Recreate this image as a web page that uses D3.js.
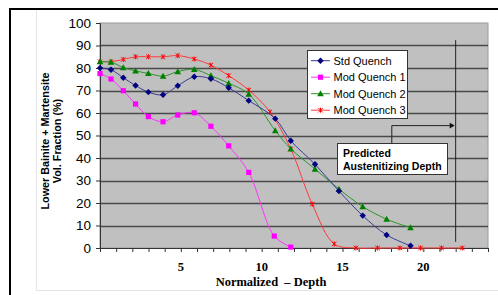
<!DOCTYPE html>
<html><head><meta charset="utf-8">
<script src="https://cdn.jsdelivr.net/npm/d3@7"></script>
<style>body{margin:0;background:#fff;} svg{display:block;}</style>
</head><body>
<script>
// ---- data ----
const xMain = [0, 0.68, 1.44, 2.2, 2.99, 3.9, 4.81, 5.83, 6.86, 7.96, 9.2, 10.84, 11.8, 13.3, 14.78, 16.25, 17.73, 19.21];
const stdQuench = [80, 79.2, 75.7, 72.2, 69.3, 68.1, 72.1, 76.1, 75.2, 71.2, 65.5, 57.5, 47.7, 37.2, 25.3, 14.4, 5.8, 1.0];
const modQuench2 = [82.8, 82.6, 80.2, 78.7, 77.6, 76.4, 78.4, 79.4, 76.6, 73.2, 68.4, 52.2, 44.1, 35.1, 26.2, 18.4, 12.8, 9.0];
const xMod1 = [0, 0.68, 1.44, 2.2, 2.99, 3.9, 4.81, 5.83, 6.86, 7.96, 9.2, 10.78, 11.8];
const modQuench1 = [77.5, 75.1, 69.9, 64, 58.4, 56.1, 59.1, 60.1, 54.1, 45.4, 33.6, 5.3, 0.4];
const xMod3 = [0, 0.68, 1.44, 2.2, 2.99, 3.9, 4.81, 5.83, 6.86, 7.96, 9.2, 10.51, 11.8, 13.13, 14.49, 15.83, 17.17, 18.55, 19.83, 21.13, 22.41];
const modQuench3 = [82.8, 82.8, 83.8, 85, 85, 85, 85.5, 84, 81.3, 76.6, 70.2, 60.5, 44, 19.5, 1.8, 0, 0, 0, 0, 0, 0];
const seriesNames = ["Std Quench", "Mod Quench 1", "Mod Quench 2", "Mod Quench 3"];
const yTicks = [0, 10, 20, 30, 40, 50, 60, 70, 80, 90, 100];
const xTickLabels = [5, 10, 15, 20];
const predictedDepth = 22;
const annotationLines = ["Predicted", "Austenitizing Depth"];
const xTitle = "Normalized  \u2013 Depth";
const yTitle = ["Lower Bainite + Martensite", "Vol. Fraction (%)"];

// ---- layout ----
const W = 498, H = 295;
const svg = d3.select("body").append("svg").attr("width", W).attr("height", H);

// outer frame
svg.append("rect").attr("x", 10).attr("y", 9).attr("width", 520).attr("height", 320)
  .attr("fill", "#fff").attr("stroke", "#000").attr("stroke-width", 2);
svg.append("line").attr("x1", 36.5).attr("x2", 36.5).attr("y1", 10).attr("y2", 291)
  .attr("stroke", "#e4e4e4");
svg.append("line").attr("x1", 36).attr("x2", 498).attr("y1", 290.5).attr("y2", 290.5)
  .attr("stroke", "#e4e4e4");

const x = d3.scaleLinear().domain([0, 24]).range([100, 488]);
const y = d3.scaleLinear().domain([0, 100]).range([248, 23]);

// plot area
svg.append("rect").attr("x", x(0)).attr("y", y(100)).attr("width", x(24) - x(0)).attr("height", y(0) - y(100))
  .attr("fill", "#c0c0c0").attr("stroke", "#9a9a9a").attr("stroke-width", 1);

// gridlines
svg.append("g").selectAll("line").data(yTicks.filter(d => d > 0 && d < 100)).join("line")
  .attr("x1", x(0)).attr("x2", x(24)).attr("y1", d => Math.round(y(d)) + 0.5).attr("y2", d => Math.round(y(d)) + 0.5)
  .attr("stroke", "#4a4a4a").attr("stroke-width", 1.3);

// y axis
const yAxis = d3.axisLeft(y).tickValues(yTicks).tickSize(4).tickPadding(5);
const gy = svg.append("g").attr("transform", `translate(${x(0)},0)`).call(yAxis);
gy.select(".domain").attr("stroke", "#333");
gy.selectAll(".tick line").attr("stroke", "#333");
gy.selectAll("text").attr("font-family", "Liberation Sans, Arial, sans-serif").attr("font-size", 13.5).attr("fill", "#000");

// x axis
const xAxis = d3.axisBottom(x).tickValues(d3.range(0, 25)).tickSize(4).tickFormat(() => "");
const gx = svg.append("g").attr("transform", `translate(0,${y(0)})`).call(xAxis);
gx.select(".domain").attr("stroke", "#333");
gx.selectAll(".tick line").attr("stroke", "#333");
svg.append("g").selectAll("text").data(xTickLabels).join("text")
  .attr("x", d => x(d)).attr("y", 271).attr("text-anchor", "middle")
  .attr("font-family", "Liberation Serif, Times New Roman, serif").attr("font-weight", "bold").attr("font-size", 12.5)
  .text(d => d);
svg.append("text").attr("x", 271).attr("y", 286).attr("text-anchor", "middle")
  .attr("font-family", "Liberation Serif, Times New Roman, serif").attr("font-weight", "bold").attr("font-size", 12.5)
  .attr("xml:space", "preserve").style("white-space", "pre").text(xTitle);

// y title
const yt = svg.append("text").attr("transform", "translate(51,141) rotate(-90)")
  .attr("text-anchor", "middle").attr("font-family", "Liberation Sans, Arial, sans-serif")
  .attr("font-weight", "bold").attr("font-size", 10.8);
yt.append("tspan").attr("x", 0).attr("dy", -2).text(yTitle[0]);
yt.append("tspan").attr("x", 0).attr("dy", 12).text(yTitle[1]);

// series
const series = [
  {name: seriesNames[0], xs: xMain, ys: stdQuench, color: "#000080", line: "#3a3a9a", marker: "diamond"},
  {name: seriesNames[1], xs: xMod1, ys: modQuench1, color: "#ff00ff", line: "#ff33ff", marker: "square"},
  {name: seriesNames[2], xs: xMain, ys: modQuench2, color: "#008000", line: "#2a952a", marker: "triangle"},
  {name: seriesNames[3], xs: xMod3, ys: modQuench3, color: "#ff0000", line: "#ff3a3a", marker: "cross"}
];
const lineGen = d3.line().x(d => x(d[0])).y(d => y(d[1])).curve(d3.curveCatmullRom.alpha(0.5));

function drawMarker(g, type, cx, cy, color) {
  if (type === "diamond") {
    g.append("path").attr("d", `M${cx},${cy-3.2}L${cx+3.2},${cy}L${cx},${cy+3.2}L${cx-3.2},${cy}Z`).attr("fill", color);
  } else if (type === "square") {
    g.append("rect").attr("x", cx - 2.6).attr("y", cy - 2.6).attr("width", 5.2).attr("height", 5.2).attr("fill", color);
  } else if (type === "triangle") {
    g.append("path").attr("d", `M${cx},${cy-3.4}L${cx+3.3},${cy+2.6}L${cx-3.3},${cy+2.6}Z`).attr("fill", color);
  } else {
    g.append("path").attr("d", `M${cx-2.2},${cy-2.2}L${cx+2.2},${cy+2.2}M${cx-2.2},${cy+2.2}L${cx+2.2},${cy-2.2}M${cx},${cy-2.5}L${cx},${cy+2.5}`)
      .attr("stroke", color).attr("stroke-width", 1).attr("fill", "none");
  }
}

const gs = svg.append("g");
// draw order: red, green, blue, magenta (so markers overlap like the original)
[series[3], series[2], series[0], series[1]].forEach(s => {
  const pts = s.xs.map((xv, i) => [xv, s.ys[i]]);
  gs.append("path").attr("d", lineGen(pts)).attr("fill", "none").attr("stroke", s.line).attr("stroke-width", 1);
  const mg = gs.append("g");
  pts.forEach(p => drawMarker(mg, s.marker, x(p[0]), y(p[1]), s.color));
});

// predicted depth line and arrow
svg.append("line").attr("x1", x(predictedDepth)).attr("x2", x(predictedDepth)).attr("y1", y(92.4)).attr("y2", y(2.7))
  .attr("stroke", "#222").attr("stroke-width", 1);
svg.append("path").attr("d", `M${x(18.05)},${y(46.5)}V${y(54.4)}H${x(predictedDepth) - 5}`)
  .attr("fill", "none").attr("stroke", "#222").attr("stroke-width", 1);
svg.append("path").attr("d", `M${x(predictedDepth) - 1},${y(54.4)}l-5,-2.8v5.6Z`).attr("fill", "#111");

// annotation box
svg.append("rect").attr("x", 337.5).attr("y", 143.5).attr("width", 110).attr("height", 31)
  .attr("fill", "#fff").attr("stroke", "#333").attr("stroke-width", 1);
svg.append("g").selectAll("text").data(annotationLines).join("text")
  .attr("x", 343).attr("y", (d, i) => 157 + i * 12.5)
  .attr("font-family", "Liberation Sans, Arial, sans-serif").attr("font-weight", "bold").attr("font-size", 10.5)
  .text(d => d);

// legend
const lg = svg.append("g");
lg.append("rect").attr("x", 307.5).attr("y", 50.5).attr("width", 100).attr("height", 68)
  .attr("fill", "#fff").attr("stroke", "#333").attr("stroke-width", 1);
series.forEach((s, i) => {
  const cy = 60.7 + i * 16.5;
  lg.append("line").attr("x1", 311).attr("x2", 330).attr("y1", cy).attr("y2", cy).attr("stroke", s.line).attr("stroke-width", 1);
  drawMarker(lg, s.marker, 320.5, cy, s.color);
  lg.append("text").attr("x", 333.5).attr("y", cy + 4).attr("font-family", "Liberation Sans, Arial, sans-serif")
    .attr("font-size", 11).text(s.name);
});
</script>
</body></html>
